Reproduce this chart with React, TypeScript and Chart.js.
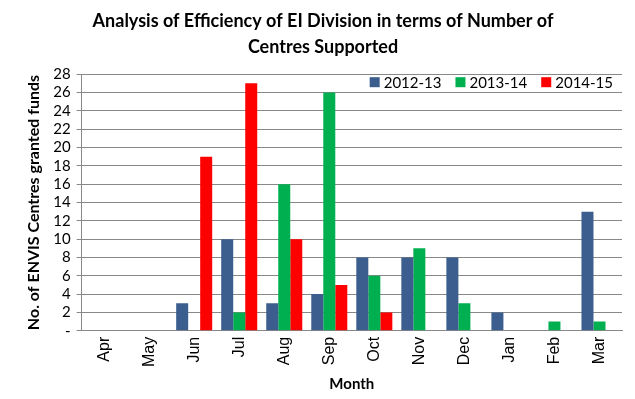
import React, { useEffect, useRef } from "react";
import { Chart, registerables } from "chart.js";

Chart.register(...registerables);

const months = ["Apr", "May", "Jun", "Jul", "Aug", "Sep", "Oct", "Nov", "Dec", "Jan", "Feb", "Mar"];
const series2012 = [0, 0, 3, 10, 3, 4, 8, 8, 8, 2, 0, 13];
const series2013 = [0, 0, 0, 2, 16, 26, 6, 9, 3, 0, 1, 1];
const series2014 = [0, 0, 19, 27, 10, 5, 2, 0, 0, 0, 0, 0];
const seriesNames = ["2012-13", "2013-14", "2014-15"];
const seriesColors = ["#3B5E8F", "#00B050", "#FF0000"];

const FONT = "Lato, 'Open Sans', sans-serif";

const insideLegend = {
  id: "insideLegend",
  afterDraw(chart: any) {
    const ctx = chart.ctx;
    const area = chart.chartArea;
    ctx.save();
    ctx.font = `15px ${FONT}`;
    ctx.textBaseline = "middle";
    ctx.fillStyle = "#000";
    const y = area.top + 8;
    const widths = seriesNames.map((n) => ctx.measureText(n).width);
    const gap = 14;
    const box = 10;
    let total = 0;
    widths.forEach((w, i) => {
      total += box + 4 + w + (i < widths.length - 1 ? gap : 0);
    });
    let x = area.right - 9 - total;
    seriesNames.forEach((n, i) => {
      ctx.fillStyle = seriesColors[i];
      ctx.fillRect(x, y - box / 2, box, box);
      ctx.fillStyle = "#000";
      ctx.fillText(n, x + box + 4, y + 1);
      x += box + 4 + widths[i] + gap;
    });
    ctx.restore();
  },
};

export default function App() {
  const ref = useRef<HTMLCanvasElement | null>(null);
  useEffect(() => {
    document.body.style.margin = "0";
    const chart = new Chart(ref.current as HTMLCanvasElement, {
      type: "bar",
      data: {
        labels: months,
        datasets: [
          { label: seriesNames[0], data: series2012, backgroundColor: seriesColors[0] },
          { label: seriesNames[1], data: series2013, backgroundColor: seriesColors[1] },
          { label: seriesNames[2], data: series2014, backgroundColor: seriesColors[2] },
        ],
      },
      options: {
        responsive: false,
        animation: false,
        layout: { padding: { left: 24, right: 13, top: 4, bottom: 6 } },
        datasets: { bar: { categoryPercentage: 0.8, barPercentage: 1 } } as any,
        plugins: {
          legend: { display: false },
          tooltip: { enabled: false },
          title: {
            display: true,
            text: ["Analysis of Efficiency of EI Division in terms of Number of", "Centres Supported"],
            font: { family: FONT, size: 18, weight: "bold", lineHeight: 1.45 },
            color: "#000",
            padding: { top: 4, bottom: 14 },
          },
        },
        scales: {
          x: {
            grid: { display: false, drawTicks: false },
            border: { color: "#888", width: 1 },
            ticks: {
              color: "#000",
              font: { family: "'Liberation Sans', Arial, sans-serif", size: 16 },
              minRotation: 90,
              maxRotation: 90,
              padding: 6,
              autoSkip: false,
            },
            title: {
              display: true,
              text: "Month",
              font: { family: FONT, size: 15, weight: "bold" },
              color: "#000",
              padding: { top: 2, bottom: 0 },
            },
          },
          y: {
            min: 0,
            max: 28,
            ticks: {
              stepSize: 2,
              autoSkip: false,
              color: "#000",
              font: { family: FONT, size: 15 },
              padding: 6,
              callback: (v: any) => (Number(v) === 0 ? "-" : String(v)),
            },
            grid: { color: "#888", tickLength: 5, drawTicks: true },
            border: { color: "#888", width: 1 },
            title: {
              display: true,
              text: "No. of ENVIS Centres granted funds",
              font: { family: FONT, size: 16, weight: "bold" },
              color: "#000",
              padding: { top: 0, bottom: 4 },
            },
          },
        },
      },
      plugins: [insideLegend],
    });
    return () => chart.destroy();
  }, []);
  return (
    <div style={{ width: 635, height: 399, background: "#fff" }}>
      <canvas ref={ref} width={635} height={399} />
    </div>
  );
}
